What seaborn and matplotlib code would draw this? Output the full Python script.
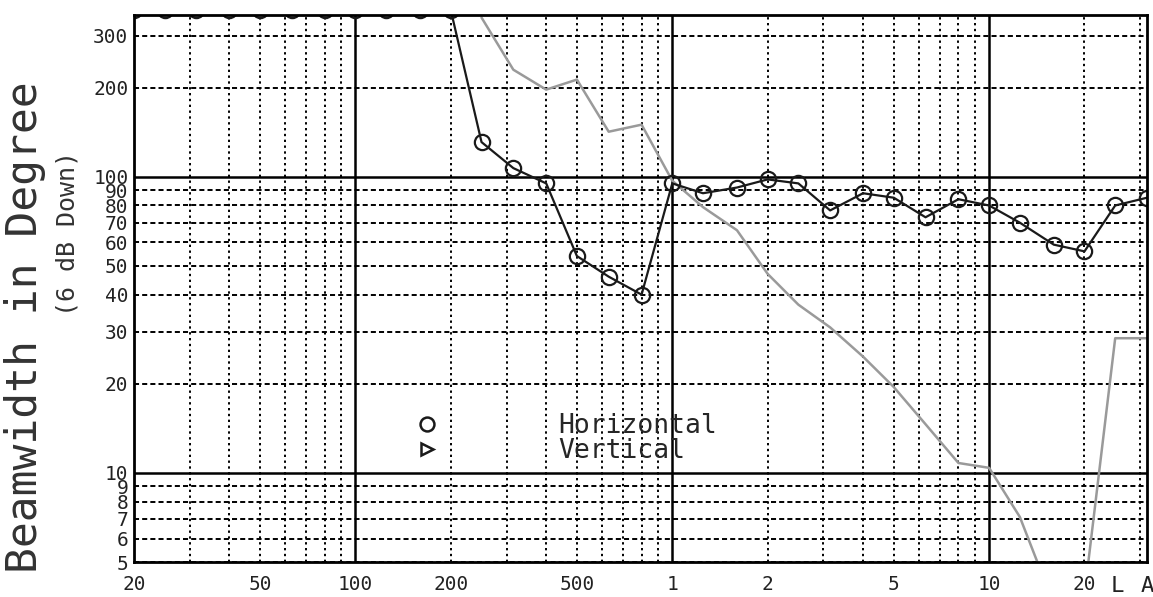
import numpy as np
import pandas as pd
import matplotlib
matplotlib.use("Agg")
import matplotlib.pyplot as plt
from matplotlib.ticker import LogLocator, FuncFormatter
from matplotlib.lines import Line2D
import seaborn as sns

# ---------------- data ----------------
freq_h = [20, 25, 31.5, 40, 50, 63, 80, 100, 125, 160, 200, 250, 315, 400, 500,
          630, 800, 1000, 1250, 1600, 2000, 2500, 3150, 4000, 5000, 6300, 8000,
          10000, 12500, 16000, 20000, 25000, 31500]
horizontal = [365, 365, 365, 365, 365, 365, 365, 365, 365, 365, 365, 131, 107, 95, 54,
              46, 40, 95, 88, 92, 98, 95, 77, 88, 85, 73, 84,
              80, 70, 59, 56, 80, 85]

freq_v = [250, 315, 400, 500, 630, 800, 1000, 1250, 1600, 2000, 2500, 3150, 4000,
          5000, 6300, 8000, 10000, 12500, 16000, 20000, 25000, 31500]
vertical = [345, 230, 197, 213, 142, 150, 97, 79, 66, 47, 37, 31, 24.7,
            19.5, 14.6, 10.8, 10.4, 7.1, 3.6, 3.9, 28.5, 28.5]

x_tick_values = [20, 50, 100, 200, 500, 1000, 2000, 5000, 10000, 20000]
x_tick_labels = ["20", "50", "100", "200", "500", "1", "2", "5", "10", "20"]
y_tick_values = [5, 6, 7, 8, 9, 10, 20, 30, 40, 50, 60, 70, 80, 90, 100, 200, 300]
y_tick_labels = [str(v) for v in y_tick_values]
series_names = ["Horizontal", "Vertical"]

df_h = pd.DataFrame({"freq": freq_h, "bw": horizontal})
df_v = pd.DataFrame({"freq": freq_v, "bw": vertical})

# ---------------- style ----------------
sns.set_style("white")
plt.rcParams["font.family"] = ["DejaVu Sans Mono"]

fig = plt.figure(figsize=(11.53, 5.97), dpi=100)
ax = fig.add_axes([0.1162, 0.0586, 0.9948 - 0.1162, 0.9749 - 0.0586])
ax.set_xscale("log")
ax.set_yscale("log")
ax.set_xlim(20, 31500)
ax.set_ylim(5, 352)

# grid
ax.xaxis.set_major_locator(LogLocator(base=10, subs=(1.0,)))
ax.xaxis.set_minor_locator(LogLocator(base=10, subs=np.arange(2, 10), numticks=20))
ax.yaxis.set_major_locator(LogLocator(base=10, subs=(1.0,)))
ax.yaxis.set_minor_locator(LogLocator(base=10, subs=np.arange(2, 10), numticks=20))

ax.grid(which="major", axis="both", color="black", linestyle="-", linewidth=1.8)
ax.xaxis.grid(which="minor", color="black", linestyle=(0, (1.2, 1.8)), linewidth=1.4)
ax.yaxis.grid(which="minor", color="black", linestyle=(0, (2.6, 1.6)), linewidth=1.4)
ax.set_axisbelow(True)


def xfmt(v, pos):
    for tv, tl in zip(x_tick_values, x_tick_labels):
        if abs(v - tv) / tv < 1e-6:
            return tl
    return ""


def yfmt(v, pos):
    for tv, tl in zip(y_tick_values, y_tick_labels):
        if abs(v - tv) / tv < 1e-6:
            return tl
    return ""


ax.xaxis.set_major_formatter(FuncFormatter(xfmt))
ax.xaxis.set_minor_formatter(FuncFormatter(xfmt))
ax.yaxis.set_major_formatter(FuncFormatter(yfmt))
ax.yaxis.set_minor_formatter(FuncFormatter(yfmt))
ax.tick_params(which="both", axis="both", length=0, labelsize=14, colors="#222222")
ax.tick_params(which="both", axis="x", pad=9)
ax.tick_params(which="both", axis="y", pad=4)

for sp in ax.spines.values():
    sp.set_color("black")
    sp.set_linewidth(2)

# ---------------- series ----------------
sns.lineplot(data=df_v, x="freq", y="bw", ax=ax, color="#9a9a9a", linewidth=1.8,
             sort=False, estimator=None)
sns.lineplot(data=df_h, x="freq", y="bw", ax=ax, color="#1a1a1a", linewidth=1.6,
             marker="o", markersize=11, markerfacecolor="none",
             markeredgecolor="#1a1a1a", markeredgewidth=1.6,
             sort=False, estimator=None)

# ---------------- labels ----------------
ax.set_xlabel("")
ax.set_ylabel("Beamwidth in Degree", fontsize=31, color="#333333")
ax.yaxis.set_label_coords(-0.087, 0.43)
ax.text(-0.066, 0.6, "(6 dB Down)", transform=ax.transAxes, rotation=90,
        ha="center", va="center", fontsize=18, color="#333333")

ax.text(0.971, -0.026, "L", transform=ax.transAxes, ha="center", va="top",
        fontsize=16, color="#222222")
ax.text(1.0, -0.026, "A", transform=ax.transAxes, ha="center", va="top",
        fontsize=16, color="#222222")

handles = [
    Line2D([], [], linestyle="none", marker="o", markersize=10,
           markerfacecolor="none", markeredgecolor="#1a1a1a", markeredgewidth=1.8),
    Line2D([], [], linestyle="none", marker=">", markersize=8,
           markerfacecolor="none", markeredgecolor="#1a1a1a", markeredgewidth=1.8),
]
leg = ax.legend(handles, series_names, loc="upper left",
                bbox_to_anchor=(0.263, 0.296), frameon=False,
                fontsize=19, handlelength=1.0, handletextpad=4.5,
                labelspacing=-0.05, borderpad=0)

fig.savefig("out.png", dpi=100)
